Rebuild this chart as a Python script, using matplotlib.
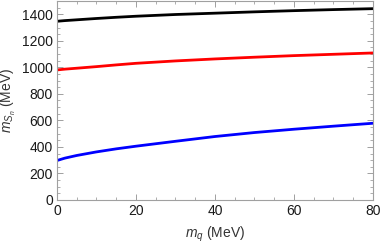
import matplotlib.pyplot as plt
from matplotlib.ticker import MultipleLocator

plt.rcParams['font.family'] = ['Liberation Sans', 'DejaVu Sans']
plt.rcParams['mathtext.fontset'] = 'custom'
plt.rcParams['mathtext.it'] = 'Liberation Sans:italic'
plt.rcParams['mathtext.rm'] = 'Liberation Sans'

# quark mass (MeV) and masses (MeV)
mq = [0, 2, 5, 10, 15, 20, 30, 40, 50, 60, 70, 80]
m_black = [1347, 1352, 1358, 1368, 1377, 1385, 1398, 1408, 1418, 1427, 1435, 1442]
m_red = [980, 986, 993, 1005, 1018, 1030, 1048, 1063, 1076, 1088, 1098, 1108]
m_blue = [297, 315, 335, 362, 385, 405, 442, 478, 508, 533, 556, 578]

fig = plt.figure(figsize=(3.82, 2.45), dpi=100)
ax = fig.add_axes([0.149, 0.184, 0.827, 0.812])

ax.plot(mq, m_black, color='black', lw=2.0)
ax.plot(mq, m_red, color='#ff0000', lw=2.0)
ax.plot(mq, m_blue, color='#0000ff', lw=2.0)

ax.set_xlim(0, 80)
ax.set_ylim(0, 1500)
ax.xaxis.set_major_locator(MultipleLocator(20))
ax.xaxis.set_minor_locator(MultipleLocator(5))
ax.yaxis.set_major_locator(MultipleLocator(200))
ax.yaxis.set_minor_locator(MultipleLocator(50))

for s in ax.spines.values():
    s.set_color('#a0a0a0')
    s.set_linewidth(0.8)
ax.tick_params(which='both', direction='in', top=True, right=True,
               color='#a0a0a0', labelsize=10, labelcolor='#1a1a1a')
ax.tick_params(which='major', length=4, width=0.7, pad=3)
ax.tick_params(which='minor', length=2, width=0.6)

ax.set_xlabel(r'$m_q$ (MeV)', fontsize=10, color='#333333', labelpad=5)
ax.set_ylabel(r'$m_{S_n}$ (MeV)', fontsize=10, color='#333333', labelpad=3)

fig.savefig('out.png', dpi=100)
